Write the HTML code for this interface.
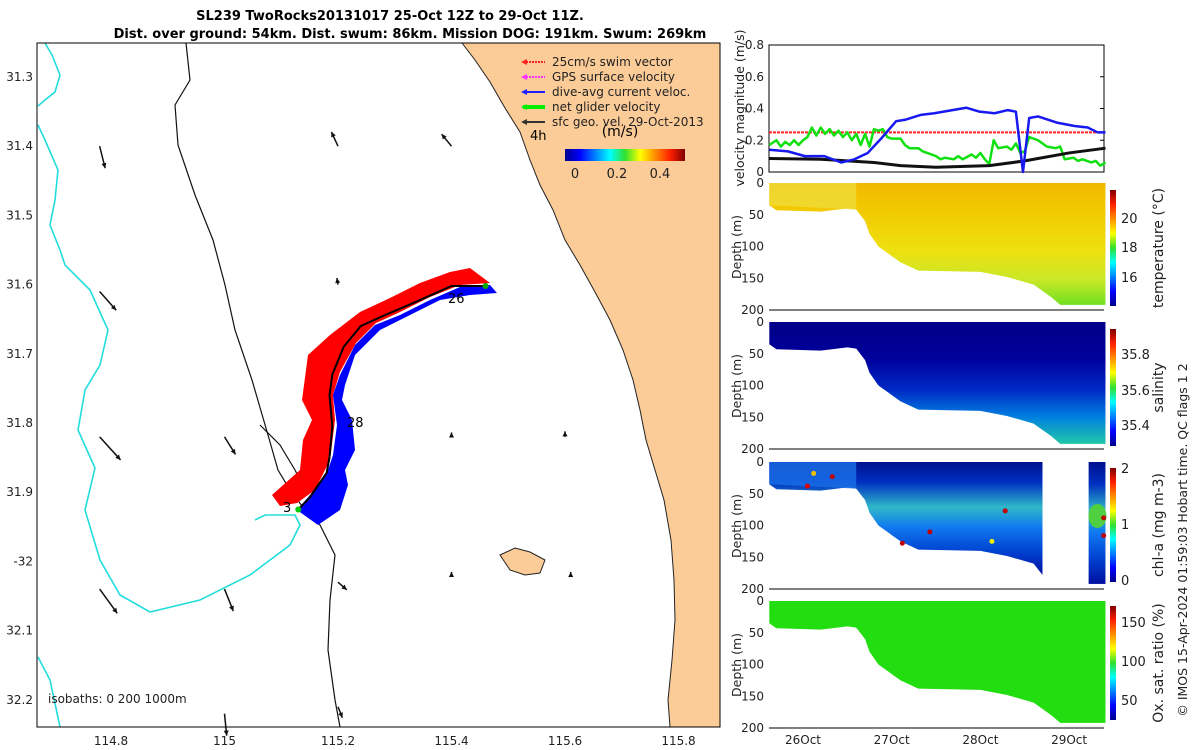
<!DOCTYPE html>
<html><head><meta charset="utf-8">
<style>
body{margin:0;background:#fff;}
svg{display:block;font-family:"DejaVu Sans","Liberation Sans",sans-serif;}
.tk{font-size:12px;fill:#222;}
</style></head>
<body>
<svg id="fig" width="1200" height="750" viewBox="0 0 1200 750">
<defs>
<linearGradient id="jet" x1="0" y1="1" x2="0" y2="0">
<stop offset="0" stop-color="#00008f"/><stop offset="0.125" stop-color="#0000ff"/><stop offset="0.375" stop-color="#00ffff"/><stop offset="0.5" stop-color="#30e030"/><stop offset="0.625" stop-color="#ffff00"/><stop offset="0.875" stop-color="#ff2000"/><stop offset="1" stop-color="#800000"/></linearGradient>
<linearGradient id="jeth" x1="0" y1="0" x2="1" y2="0">
<stop offset="0" stop-color="#00008f"/><stop offset="0.125" stop-color="#0000ff"/><stop offset="0.375" stop-color="#00ffff"/><stop offset="0.5" stop-color="#30e030"/><stop offset="0.625" stop-color="#ffff00"/><stop offset="0.875" stop-color="#ff2000"/><stop offset="1" stop-color="#800000"/></linearGradient>
<linearGradient id="gT" x1="0" y1="0" x2="0" y2="1"><stop offset="0" stop-color="#f2b800"/><stop offset="0.2" stop-color="#f2c800"/><stop offset="0.55" stop-color="#eee010"/><stop offset="0.8" stop-color="#c8e828"/><stop offset="1" stop-color="#70e020"/></linearGradient>
<linearGradient id="gS" x1="0" y1="0" x2="0" y2="1"><stop offset="0" stop-color="#000088"/><stop offset="0.3" stop-color="#00009c"/><stop offset="0.55" stop-color="#0028c4"/><stop offset="0.78" stop-color="#0080e0"/><stop offset="1" stop-color="#20c8a8"/></linearGradient>
<linearGradient id="gC" x1="0" y1="0" x2="0" y2="1"><stop offset="0" stop-color="#001090"/><stop offset="0.18" stop-color="#0030c0"/><stop offset="0.4" stop-color="#30b8c8"/><stop offset="0.58" stop-color="#1078f0"/><stop offset="0.8" stop-color="#0040d0"/><stop offset="1" stop-color="#0010a0"/></linearGradient>
</defs>
<g id="map"></g>
<g id="right"></g>
<text x="390" y="20" text-anchor="middle" font-weight="bold" font-size="13">SL239 TwoRocks20131017 25-Oct 12Z to 29-Oct 11Z.</text>
<text x="410" y="38" text-anchor="middle" font-weight="bold" font-size="13">Dist. over ground: 54km. Dist. swum: 86km. Mission DOG: 191km. Swum: 269km</text>
<text transform="translate(1187,540) rotate(-90)" text-anchor="middle" font-size="12.5" fill="#222">© IMOS 15-Apr-2024 01:59:03 Hobart time. QC flags 1  2</text>
</svg>
<script>
// ---------- data ----------
const lonTicks=[114.8,115,115.2,115.4,115.6,115.8];
const latTicks=[31.3,31.4,31.5,31.6,31.7,31.8,31.9,32,32.1,32.2];
const geoLon=[114.78,114.78,114.78,114.78,115.0,115.0,115.0,115.2,115.2,115.2,115.2,115.4,115.4,115.4,115.6,115.61];
const geoLat=[31.4,31.61,31.82,32.04,31.82,32.04,32.22,31.4,31.6,32.03,32.21,31.4,31.82,32.02,31.82,32.02];
const geoU=[0.05,0.15,0.19,0.16,0.1,0.08,0.02,-0.06,-0.01,0.08,0.04,-0.09,0.0,0.0,0.0,0.0];
const geoV=[-0.2,-0.17,-0.21,-0.22,-0.16,-0.2,-0.2,0.13,0.06,-0.07,-0.1,0.11,0.04,0.03,0.05,0.03];
const trackLon=[115.46,115.4,115.34,115.28,115.24,115.21,115.19,115.185,115.19,115.185,115.18,115.15,115.13];
const trackLat=[31.602,31.602,31.624,31.645,31.66,31.69,31.73,31.76,31.805,31.85,31.872,31.908,31.925];

const velTicks=[0,0.2,0.4,0.6,0.8];
const dayTicks=[26,27,28,29];
const dayLabels=["26Oct","27Oct","28Oct","29Oct"];
const blueT=[25.62,25.83,26.02,26.24,26.43,26.58,26.73,26.88,27.05,27.16,27.33,27.48,27.84,27.99,28.16,28.31,28.40,28.48,28.55,28.65,28.87,29.06,29.21,29.32,29.41];
const blueV=[0.14,0.13,0.10,0.10,0.06,0.08,0.12,0.21,0.32,0.33,0.36,0.37,0.405,0.38,0.37,0.39,0.38,0.0,0.34,0.35,0.31,0.29,0.28,0.25,0.25];
const blackT=[25.62,26.2,26.8,27.1,27.5,28.1,28.5,29.0,29.41];
const blackV=[0.085,0.08,0.06,0.04,0.03,0.04,0.07,0.12,0.15];
const greenT=[25.62,25.7,25.75,25.8,25.85,25.9,25.95,26.0,26.05,26.1,26.15,26.2,26.25,26.3,26.35,26.4,26.45,26.5,26.55,26.6,26.65,26.7,26.75,26.8,26.85,26.9,26.95,27.0,27.1,27.15,27.2,27.3,27.35,27.4,27.5,27.55,27.6,27.7,27.75,27.8,27.9,27.95,28.0,28.05,28.1,28.15,28.2,28.3,28.35,28.4,28.45,28.5,28.55,28.65,28.75,28.85,28.9,28.95,29.05,29.1,29.15,29.25,29.3,29.35,29.41];
const greenV=[0.17,0.2,0.16,0.19,0.17,0.2,0.17,0.2,0.22,0.28,0.23,0.28,0.24,0.27,0.23,0.26,0.22,0.25,0.2,0.24,0.17,0.24,0.16,0.27,0.26,0.27,0.22,0.21,0.21,0.17,0.15,0.15,0.13,0.12,0.1,0.08,0.09,0.08,0.1,0.08,0.11,0.09,0.12,0.08,0.05,0.2,0.15,0.16,0.14,0.18,0.12,0.13,0.22,0.2,0.16,0.15,0.16,0.08,0.09,0.07,0.08,0.06,0.07,0.04,0.06];
const swimV=0.25;
const depthT=[25.62,25.7,26.2,26.5,26.6,26.7,26.75,26.85,27.1,27.3,28.0,28.3,28.6,28.8,28.9,29.41];
const depthD=[35,43,45,40,42,60,80,100,125,138,140,148,160,180,192,192];
const depthTicks=[0,50,100,150,200];

const NS='http://www.w3.org/2000/svg';
function mk(parent,tag,attrs,name,txt){const e=document.createElementNS(NS,tag);for(const k in attrs)e.setAttribute(k,attrs[k]);


if(txt!==undefined)e.textContent=txt;parent.appendChild(e);return e;}
const map=document.getElementById('map'), R=document.getElementById('right');

// ---------- map ----------
const lonX=l=>111+(l-114.8)*567.5, latY=a=>77+(a-31.3)*692;
mk(map,'rect',{x:37,y:43,width:683,height:684,fill:'#fff'},'map-background');
mk(map,'polygon',{points:'462,43 475,60 490,82 505,108 520,132 530,160 540,185 553,210 565,240 580,265 595,292 610,320 623,350 633,380 640,410 646,440 655,470 664,500 671,540 674,580 675,620 672,660 668,700 670,727 720,727 720,43',fill:'#fbcb98'},'land');
mk(map,'path',{d:'M462,43 L475,60 490,82 505,108 520,132 530,160 540,185 553,210 565,240 580,265 595,292 610,320 623,350 633,380 640,410 646,440 655,470 664,500 671,540 674,580 675,620 672,660 668,700 670,727',fill:'none',stroke:'#222','stroke-width':1},'coastline');
mk(map,'path',{d:'M500,555 L515,548 530,552 545,560 540,573 525,575 510,570 Z',fill:'#fbcb98',stroke:'#222','stroke-width':1},'rottnest-island');
mk(map,'path',{d:'M45,43 L52,55 60,75 55,92 45,100 38,106 M38,125 L45,140 58,170 55,200 50,225 60,250 65,265 90,290 108,330 100,365 85,390 78,430 95,468 85,510 100,560 120,595 150,612 200,600 250,575 290,545 300,525 295,515 265,515 255,520 M38,657 L50,680 60,727',fill:'none',stroke:'#22dddd','stroke-width':1.6},'isobath-0m');
mk(map,'path',{d:'M186,43 L190,80 175,105 178,145 195,195 213,240 225,285 235,330 252,380 268,435 278,470 290,490 305,510 320,525 335,555 330,600 328,650 335,700 340,727',fill:'none',stroke:'#111','stroke-width':1.2},'isobath-200m');
mk(map,'path',{d:'M260,425 L280,445 295,470 305,490',fill:'none',stroke:'#111','stroke-width':1.2},'isobath-1000m');
// track ribbons
mk(map,'polygon',{points:'490,283 470,268 450,272 420,283 390,298 360,312 330,335 308,355 302,400 312,420 303,440 300,470 272,495 280,506 297,503 315,490 330,460 335,420 333,395 340,372 356,343 376,323 400,312 430,297 460,285',fill:'#ff0000'},'swim-vector-ribbon');
mk(map,'polygon',{points:'490,285 497,293 470,295 440,300 410,315 380,330 355,355 345,385 342,400 352,420 355,450 345,470 348,485 340,510 318,525 297,510 310,495 328,470 333,455 337,425 333,395 340,375 355,345 375,325 400,315 430,300 460,287',fill:'#0000ff'},'current-vector-ribbon');
mk(map,'polyline',{points:trackLon.map((l,i)=>lonX(l)+','+latY(trackLat[i])).join(' '),fill:'none',stroke:'#000','stroke-width':2},'glider-track');
mk(map,'circle',{cx:lonX(115.46),cy:latY(31.602),r:3,fill:'#0a0'},'track-end-marker');
mk(map,'circle',{cx:lonX(115.13),cy:latY(31.925),r:3,fill:'#0c0'},'track-start-marker');
mk(map,'text',{x:448,y:303,'font-size':13},'day-label-26','26');
mk(map,'text',{x:347,y:427,'font-size':13},'day-label-28','28');
mk(map,'text',{x:283,y:512,'font-size':13},'day-label-29','3');
// geo vectors
geoLon.forEach((l,i)=>{const x=lonX(l),y=latY(geoLat[i]);const dx=geoU[i]*110,dy=-geoV[i]*110;
const g=mk(map,'g',{},'geo-velocity-arrow');
mk(g,'line',{x1:x,y1:y,x2:x+dx,y2:y+dy,stroke:'#111','stroke-width':1.5},'geo-arrow-shaft');
const L=Math.hypot(dx,dy)||1,ux=dx/L,uy=dy/L,hx=x+dx,hy=y+dy;
mk(g,'polygon',{points:`${hx},${hy} ${hx-5*ux-2.5*uy},${hy-5*uy+2.5*ux} ${hx-5*ux+2.5*uy},${hy-5*uy-2.5*ux}`,fill:'#111'},'geo-arrow-head');});
// legend
const leg=[['#ff2020','25cm/s swim vector'],['#ff30ff','GPS surface velocity'],['#2020ff','dive-avg current veloc.'],['#00ee00','net glider velocity'],['#333','sfc geo. vel. 29-Oct-2013']];
leg.forEach((d,i)=>{const y=62+i*15;const g=mk(map,'g',{},'legend-entry');
mk(g,'line',{x1:523,y1:y,x2:545,y2:y,stroke:d[0],'stroke-width':i==3?4:2,'stroke-dasharray':i<2?'2 1':''},'legend-line');
mk(g,'polygon',{points:`${521},${y} ${527},${y-3} ${527},${y+3}`,fill:d[0]},'legend-arrowhead');
mk(g,'text',{x:552,y:y+4,'font-size':12,fill:'#222'},'legend-label',d[1]);});
mk(map,'text',{x:530,y:140,'font-size':13},'time-label-4h','4h');
mk(map,'text',{x:620,y:136,'font-size':14,'text-anchor':'middle'},'colorbar-units','(m/s)');
mk(map,'rect',{x:565,y:149,width:120,height:12,fill:'url(#jeth)'},'speed-colorbar');
[[0,575],[0.2,617],[0.4,660]].forEach(t=>mk(map,'text',{x:t[1],y:178,'font-size':13,'text-anchor':'middle',fill:'#222'},'speed-colorbar-tick',t[0]));
mk(map,'text',{x:48,y:703,'font-size':12,fill:'#222'},'isobath-legend','isobaths: 0   200  1000m');
mk(map,'rect',{x:37,y:43,width:683,height:684,fill:'none',stroke:'#000','stroke-width':1},'map-frame');
lonTicks.forEach(l=>{mk(map,'text',{x:lonX(l),y:745,'text-anchor':'middle',class:'tk'},'lon-tick-label',String(l));});
latTicks.forEach(a=>{mk(map,'text',{x:33,y:latY(a)+4,'text-anchor':'end',class:'tk'},'lat-tick-label',(a===32?'-32':String(a)));});

// ---------- right panels ----------
const X0=769,X1=1104;const tx=t=>803+(t-26)*88.7;
const vy=v=>172-v/0.8*127;
mk(R,'rect',{x:X0,y:45,width:X1-X0,height:127,fill:'#fff',stroke:'#000'},'velocity-axes');
velTicks.forEach(v=>{mk(R,'text',{x:764,y:vy(v)+4,'text-anchor':'end',class:'tk'},'velocity-tick',String(v));
mk(R,'line',{x1:X1-4,y1:vy(v),x2:X1,y2:vy(v),stroke:'#000'},'velocity-tick-mark');});
mk(R,'line',{x1:X0,y1:vy(swimV),x2:X1,y2:vy(swimV),stroke:'#ff2020','stroke-width':2,'stroke-dasharray':'3 1'},'swim-speed-line');
const pl=(T,V,c,w,n)=>mk(R,'polyline',{points:T.map((t,i)=>tx(t)+','+vy(V[i])).join(' '),fill:'none',stroke:c,'stroke-width':w,'stroke-linejoin':'round'},n);
pl(greenT,greenV,'#10e010',2.5,'net-glider-speed-line');
pl(blackT,blackV,'#111',3,'geo-speed-line');
pl(blueT,blueV,'#1818f0',2.5,'current-speed-line');
mk(R,'text',{transform:'translate(744,108) rotate(-90)','text-anchor':'middle','font-size':12.5,fill:'#222'},'velocity-y-title','velocity magnitude (m/s)');

const panels=[{top:183,fill:'url(#gT)',name:'temperature',label:'temperature (°C)',ticks:[[20,218],[18,247],[16,277]],cb:[190,306]},
{top:322,fill:'url(#gS)',name:'salinity',label:'salinity',ticks:[['35.8',354],['35.6',390],['35.4',425]],cb:[329,446]},
{top:462,fill:'url(#gC)',name:'chlorophyll',label:'chl-a (mg m-3)',ticks:[[2,468],[1,524],[0,580]],cb:[468,582]},
{top:601,fill:'#22dd10',name:'oxygen',label:'Ox. sat. ratio (%)',ticks:[[150,622],[100,661],[50,700]],cb:[606,720]}];
panels.forEach((p,pi)=>{const dy=d=>p.top+d/200*127;const g=mk(R,'g',{},p.name+'-panel');
let T=depthT,D=depthD;
if(pi===2){const idx=T.findIndex(t=>t>28.7);T=T.slice(0,idx).concat([28.7]);D=D.slice(0,idx).concat([178]);}
const pts=[tx(T[0])+','+dy(0)].concat(T.map((t,i)=>tx(t)+','+dy(D[i]))).concat([tx(T[T.length-1])+','+dy(0)]);
mk(g,'polygon',{points:pts.join(' '),fill:p.fill},p.name+'-section');
if(pi===0){mk(g,'polygon',{points:`${tx(25.62)},${dy(0)} ${tx(26.6)},${dy(0)} ${tx(26.6)},${dy(42)} ${tx(25.62)},${dy(35)}`,fill:'#f0e040',opacity:0.7},'temp-shallow-tint');}
if(pi===2){mk(g,'polygon',{points:`${tx(25.62)},${dy(0)} ${tx(26.6)},${dy(0)} ${tx(26.6)},${dy(42)} ${tx(25.62)},${dy(35)}`,fill:'#1a70e8',opacity:0.8},'chl-shallow-tint');
mk(g,'rect',{x:tx(29.22),y:dy(0),width:tx(29.41)-tx(29.22),height:dy(192)-dy(0),fill:'url(#gC)'},'chl-section-late');
mk(g,'ellipse',{cx:tx(29.32),cy:dy(85),rx:9,ry:12,fill:'#50d040'},'chl-late-bloom');
[[26.05,38,'#e00000'],[26.33,23,'#c00000'],[26.12,18,'#f0c000'],[27.12,128,'#c00000'],[27.43,110,'#c00000'],[28.13,125,'#f0f000'],[28.28,77,'#c00000'],[29.39,88,'#c00000'],[29.39,116,'#c00000']].forEach(q=>mk(g,'circle',{cx:tx(q[0]),cy:dy(q[1]),r:2.5,fill:q[2]},'chl-high-value-dot'));}
mk(g,'line',{x1:X0,y1:dy(200),x2:X1,y2:dy(200),stroke:'#000'},p.name+'-x-axis');
depthTicks.forEach(d=>mk(g,'text',{x:764,y:dy(d)+4,'text-anchor':'end',class:'tk'},p.name+'-depth-tick',String(d)));
mk(g,'text',{transform:`translate(741,${p.top+64}) rotate(-90)`,'text-anchor':'middle','font-size':12.5,fill:'#222'},p.name+'-y-title','Depth (m)');
mk(g,'rect',{x:1110,y:p.cb[0],width:6,height:p.cb[1]-p.cb[0],fill:'url(#jet)'},p.name+'-colorbar');
p.ticks.forEach(t=>mk(g,'text',{x:1121,y:t[1]+5,'font-size':13,fill:'#222'},p.name+'-colorbar-tick',String(t[0])));
mk(g,'text',{transform:`translate(1163,${(p.cb[0]+p.cb[1])/2}) rotate(-90)`,'text-anchor':'middle','font-size':14,fill:'#222'},p.name+'-colorbar-title',p.label);});
dayTicks.forEach((d,i)=>mk(R,'text',{x:tx(d),y:744,'text-anchor':'middle',class:'tk'},'time-tick-label',dayLabels[i]));
</script>
</body></html>
